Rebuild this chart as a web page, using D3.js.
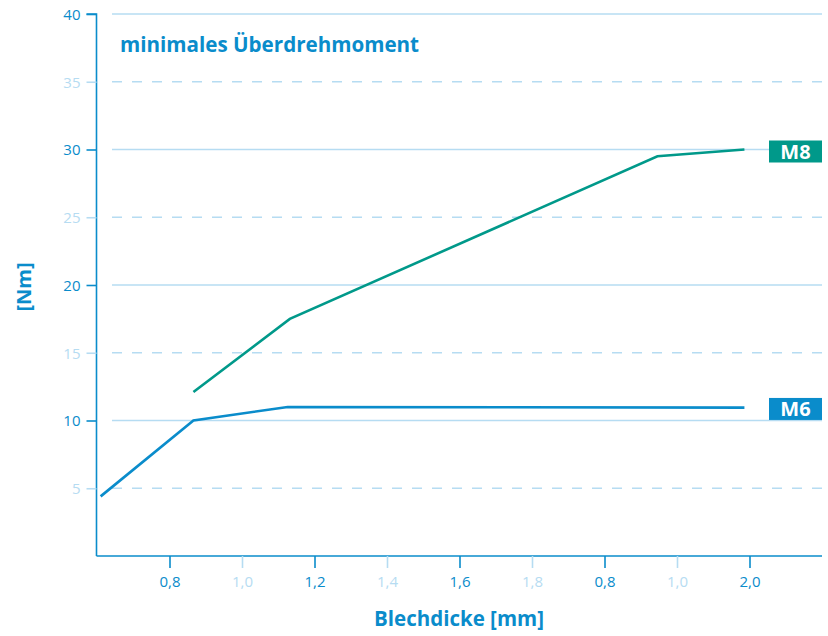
<!DOCTYPE html>
<html><head><meta charset="utf-8">
<script src="https://cdn.jsdelivr.net/npm/d3@7"></script>
<style>body{margin:0;background:#fff}svg{display:block}text{font-family:"Open Sans","Noto Sans",sans-serif}</style>
</head><body><svg id="c" width="828" height="636"></svg>
<script>
// x positions are in tick-index units (tick i sits at index i)
const xTickLabels = ["0,8","1,0","1,2","1,4","1,6","1,8","0,8","1,0","2,0"];
const xTickStrong = [true,false,true,false,true,false,true,false,true];
const yTicks = [5,10,15,20,25,30,35,40];
const m6X = [-0.95, 0.33, 1.63, 7.93];
const m6Y = [4.4, 10.0, 11.0, 10.95];
const m8X = [0.33, 1.66, 6.73, 7.93];
const m8Y = [12.1, 17.5, 29.5, 30.0];
const seriesNames = ["M8","M6"];

const blue = "#0a8ccb", light = "#b6dcf2", teal = "#00998a";
const svg = d3.select("#c");
const x = d3.scaleLinear().domain([-1, 9]).range([97, 822]);
const y = d3.scaleLinear().domain([0, 40]).range([556, 14]);

// gridlines
yTicks.forEach(v => {
  svg.append("line").attr("x1", 112).attr("x2", 822).attr("y1", y(v)).attr("y2", y(v))
    .attr("stroke", light).attr("stroke-width", 1.3)
    .attr("stroke-dasharray", v % 10 === 0 ? null : "10,10");
});

// y axis
const yAxis = svg.append("g").attr("transform", "translate(96.5,0)")
  .call(d3.axisLeft(y).tickValues(yTicks).tickSize(10).tickPadding(6).tickFormat(d3.format("d")));
yAxis.select(".domain").attr("d", `M-10,${y(40)}H0V${y(0)}`).attr("stroke", blue).attr("stroke-width", 1.6);
yAxis.selectAll(".tick line").attr("stroke", d => d % 10 === 0 ? blue : light).attr("stroke-width", 1.6);
yAxis.selectAll(".tick text").attr("fill", d => d % 10 === 0 ? blue : light)
  .style("font-size", "15px").attr("dy", "0.35em");

// x axis
const xAxis = svg.append("g").attr("transform", "translate(0,556)")
  .call(d3.axisBottom(x).tickValues(d3.range(xTickLabels.length)).tickSize(12).tickPadding(8)
    .tickFormat(i => xTickLabels[i]));
xAxis.select(".domain").attr("d", `M96.5,0H822`).attr("stroke", blue).attr("stroke-width", 1.6);
xAxis.selectAll(".tick line").attr("stroke", i => xTickStrong[i] ? blue : light).attr("stroke-width", 1.6);
xAxis.selectAll(".tick text").attr("fill", i => xTickStrong[i] ? blue : light)
  .style("font-size", "15px");

// lines
const line = d3.line().x(d => x(d[0])).y(d => y(d[1]));
svg.append("path").datum(d3.zip(m8X, m8Y)).attr("d", line)
  .attr("fill", "none").attr("stroke", teal).attr("stroke-width", 2.6);
svg.append("path").datum(d3.zip(m6X, m6Y)).attr("d", line)
  .attr("fill", "none").attr("stroke", blue).attr("stroke-width", 2.6);

// series labels
[[seriesNames[0], 30, teal], [seriesNames[1], 11, blue]].forEach(([n, v, c]) => {
  const cy = y(v) + 2;
  svg.append("rect").attr("x", 769).attr("y", cy - 11).attr("width", 53).attr("height", 22).attr("fill", c);
  svg.append("text").attr("x", 795.5).attr("y", cy).attr("dy", "0.36em").attr("text-anchor", "middle")
    .attr("fill", "#fff").style("font-size", "20px").style("font-weight", "bold").text(n);
});

// titles
svg.append("text").attr("x", 120).attr("y", 52).attr("fill", blue)
  .style("font-size", "20.6px").style("font-weight", "bold").text("minimales Überdrehmoment");
svg.append("text").attr("x", 459).attr("y", 626).attr("text-anchor", "middle").attr("fill", blue)
  .style("font-size", "20.5px").style("font-weight", "bold").text("Blechdicke [mm]");
svg.append("text").attr("transform", "translate(31,287) rotate(-90)").attr("text-anchor", "middle").attr("fill", blue)
  .style("font-size", "20px").style("font-weight", "bold").text("[Nm]");
</script></body></html>
